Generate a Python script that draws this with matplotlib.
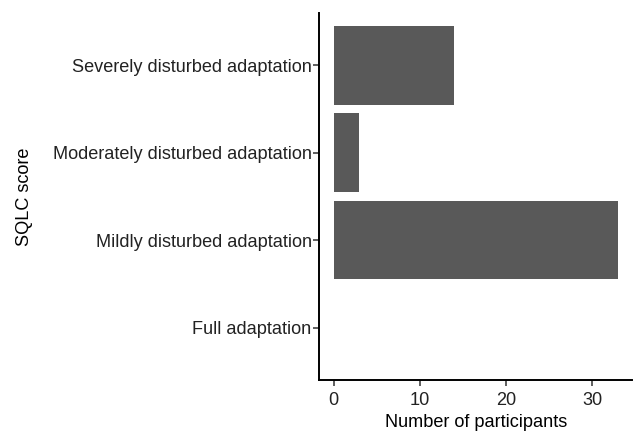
import matplotlib
matplotlib.use("Agg")
import matplotlib.pyplot as plt

categories = ["Full adaptation", "Mildly disturbed adaptation",
              "Moderately disturbed adaptation", "Severely disturbed adaptation"]
counts = [0, 33, 3, 14]
xticks = [0, 10, 20, 30]

plt.rcParams['font.family'] = ['Liberation Sans', 'DejaVu Sans']

W, H = 635, 432
fig = plt.figure(figsize=(W/100, H/100), dpi=100)
left, right, top, bottom = 319.3, 632, 12.7, 380
ax = fig.add_axes([left/W, 1-bottom/H, (right-left)/W, (bottom-top)/H])

ypos = list(range(1, len(categories)+1))
ax.barh(ypos, counts, height=0.9, color="#595959", linewidth=0)

ax.set_xlim(-0.05*33, 33*1.05)
ax.set_ylim(0.4, len(categories)+0.6)
ax.set_yticks(ypos)
ax.set_yticklabels(categories)
ax.set_xticks(xticks)
ax.set_xticklabels([str(t) for t in xticks])

for s in ["top", "right"]:
    ax.spines[s].set_visible(False)
for s in ["left", "bottom"]:
    ax.spines[s].set_linewidth(1.4)
    ax.spines[s].set_color("black")

ax.tick_params(axis="both", length=4, width=1.1, color="#333333",
               labelsize=13.1, labelcolor="#222222")
ax.tick_params(axis="y", pad=1.5)
ax.tick_params(axis="x", pad=4.5)
ax.set_xlabel("Number of participants", fontsize=13.1, color="black", labelpad=4)
ax.set_ylabel("SQLC score", fontsize=13.1, color="black", labelpad=14)

fig.savefig("out.png", dpi=100)
